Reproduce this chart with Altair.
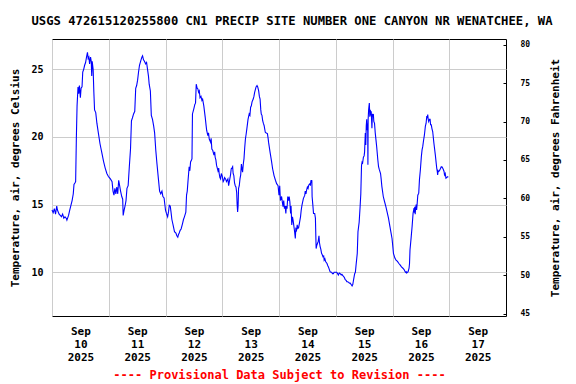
import altair as alt
import pandas as pd

# ---- data (hours since local midnight, deg C) ----
day_starts = ["2025-09-10", "2025-09-11", "2025-09-12", "2025-09-13",
              "2025-09-14", "2025-09-15", "2025-09-16"]

sep10_hours = [0.0, 0.5, 1.0, 1.5, 2.0, 2.3, 3.0, 3.5, 4.0, 4.5, 5.0, 5.5, 6.0, 6.3, 7.0, 7.5,
               8.0, 8.5, 9.0, 9.3, 9.7, 10.0, 10.3, 10.6, 11.0, 11.3, 11.6, 12.0, 12.3, 12.7,
               13.0, 13.4, 13.8, 14.2, 14.6, 15.0, 15.3, 15.6, 15.9, 16.3, 16.6, 16.8, 17.0,
               17.4, 17.7, 18.0, 18.5, 19.0, 19.6, 20.3, 21.0, 21.8, 22.5, 23.2, 23.8]
sep10_temp = [14.6, 14.4, 14.7, 14.3, 14.9, 14.6, 14.3, 14.2, 14.1, 14.3, 14.0, 14.1, 14.0, 13.85,
              14.2, 14.6, 14.95, 15.3, 15.8, 16.5, 16.6, 16.7, 19.9, 22.3, 23.7, 23.2, 23.8, 22.9,
              23.6, 23.7, 24.8, 25.0, 25.3, 25.5, 25.9, 26.25, 25.8, 25.9, 25.4, 25.9, 25.6, 24.5,
              25.6, 25.0, 23.3, 22.0, 21.8, 21.0, 20.3, 19.5, 18.9, 18.2, 17.7, 17.3, 17.1]

sep11_hours = [0.0, 0.7, 1.4, 1.8, 2.2, 2.6, 3.0, 3.4, 3.8, 4.2, 4.6, 5.0, 5.5, 5.9, 6.1, 6.5,
               6.9, 7.3, 7.7, 8.2, 8.7, 9.2, 9.6, 10.0, 10.5, 11.0, 11.4, 11.8, 12.2, 12.6, 13.0,
               13.5, 14.0, 14.3, 14.7, 15.1, 15.6, 16.0, 16.4, 16.8, 17.1, 17.6, 18.0, 18.5,
               19.0, 19.4, 19.9, 20.4, 21.0, 21.5, 22.0, 22.5, 22.9, 23.4, 23.8]
sep11_temp = [17.05, 16.9, 16.7, 16.0, 15.7, 16.2, 15.8, 16.3, 15.8, 16.8, 16.4, 16.0, 15.6, 15.4,
              14.2, 14.6, 14.9, 15.3, 16.2, 16.4, 17.8, 19.1, 21.2, 21.4, 21.7, 21.9, 23.6, 23.8,
              24.2, 24.8, 25.3, 25.6, 25.9, 26.0, 25.7, 25.6, 25.4, 25.5, 25.0, 24.5, 23.9, 23.4,
              21.6, 21.3, 20.8, 20.3, 19.0, 18.0, 16.9, 16.0, 15.8, 16.0, 15.6, 15.5, 14.9]

sep12_hours = [0.0, 0.4, 0.9, 1.3, 1.6, 2.0, 2.3, 2.7, 3.2, 3.8, 4.4, 4.8, 5.2, 5.5, 5.8, 6.2,
               6.6, 7.2, 7.6, 8.0, 8.6, 8.9, 9.2, 9.5, 10.0, 10.3, 10.6, 11.0, 11.2, 11.4, 12.0,
               12.4, 12.7, 13.0, 13.4, 13.7, 14.0, 14.3, 14.6, 15.0, 15.4, 15.7, 16.2, 16.8,
               17.2, 17.4, 17.9, 18.2, 18.5, 19.1, 19.3, 19.6, 20.0, 20.5, 20.8, 21.0, 21.3,
               21.6, 22.2, 22.5, 22.7, 23.0, 23.3, 23.6, 23.9]
sep12_temp = [14.6, 14.35, 14.1, 14.5, 14.95, 14.9, 14.5, 13.9, 13.5, 13.0, 12.9, 12.7, 12.6,
              12.8, 12.9, 13.1, 13.2, 13.6, 13.9, 14.1, 14.45, 15.7, 16.0, 16.7, 17.8, 17.5,
              18.15, 18.3, 18.4, 21.7, 22.1, 22.4, 22.5, 23.9, 23.6, 23.55, 23.3, 23.4, 22.9,
              23.0, 22.7, 22.8, 22.3, 21.45, 20.8, 20.5, 20.1, 20.3, 19.85, 19.6, 19.9, 19.1,
              19.0, 18.65, 18.9, 18.5, 18.3, 17.9, 17.5, 17.7, 17.3, 17.0, 16.9, 17.3, 17.15]

sep13_hours = [0.0, 0.4, 0.7, 1.0, 1.4, 1.8, 2.1, 2.4, 2.7, 3.0, 3.2, 3.5, 3.8, 4.1, 4.4, 4.6,
               4.9, 5.2, 5.5, 5.8, 6.1, 6.3, 6.5, 6.7, 6.9, 7.2, 7.5, 7.8, 8.1, 8.4, 8.6, 8.9,
               9.2, 9.5, 9.8, 10.1, 10.4, 10.9, 11.4, 11.7, 12.0, 12.3, 12.6, 13.1, 13.4, 13.7,
               14.0, 14.3, 14.7, 15.0, 15.4, 15.7, 16.0, 16.3, 16.5, 16.8, 17.1, 17.4, 17.7,
               18.2, 18.6, 19.1, 19.4, 19.6, 20.2, 20.8, 21.3, 21.6, 21.9, 22.5, 23.0, 23.6]
sep13_temp = [17.1, 16.7, 16.8, 17.0, 16.9, 16.7, 16.8, 16.9, 16.4, 16.7, 16.9, 17.2, 17.65,
              17.7, 17.8, 17.3, 17.15, 16.6, 16.4, 16.3, 15.9, 15.0, 14.45, 14.9, 16.2, 16.4,
              16.9, 17.2, 18.0, 17.6, 17.4, 18.0, 18.4, 19.2, 19.85, 20.2, 20.6, 21.3, 21.7,
              21.6, 22.2, 22.3, 22.6, 22.8, 23.0, 23.3, 23.5, 23.7, 23.8, 23.7, 23.4, 23.0,
              22.8, 22.0, 21.7, 21.6, 21.2, 21.0, 20.85, 20.35, 20.3, 20.25, 19.9, 19.6, 18.9,
              18.25, 17.65, 17.4, 17.15, 16.8, 16.55, 16.4]

sep14_hours = [0.0, 0.3, 0.6, 0.9, 1.1, 1.4, 1.7, 2.0, 2.3, 2.6, 2.9, 3.1, 3.4, 3.7, 4.0, 4.3,
               4.6, 4.9, 5.1, 5.4, 5.7, 6.0, 6.3, 6.6, 6.9, 7.1, 7.4, 7.7, 8.0, 8.3, 8.6, 9.1,
               9.4, 9.7, 10.3, 10.9, 11.1, 11.4, 11.7, 12.0, 12.3, 12.6, 13.1, 13.3, 13.5, 13.7,
               13.9, 14.0, 14.3, 14.6, 15.1, 15.4, 15.6, 15.7, 16.0, 16.3, 16.6, 16.9, 17.1,
               17.4, 17.7, 18.0, 18.3, 18.6, 18.9, 19.1, 19.4, 19.7, 20.3, 20.6, 20.9, 21.3,
               21.6, 22.0, 22.3, 22.6, 23.0, 23.3, 23.7]
sep14_temp = [15.7, 16.4, 15.3, 15.5, 15.6, 15.2, 14.85, 15.3, 14.7, 14.9, 14.35, 14.9, 14.7,
              15.6, 15.3, 15.6, 15.2, 14.35, 14.9, 13.5, 14.1, 13.8, 13.4, 13.0, 12.5, 13.2,
              13.1, 13.5, 13.25, 13.3, 13.6, 14.1, 14.6, 14.95, 15.45, 15.7, 16.0, 15.8, 16.1,
              16.3, 16.2, 16.45, 16.55, 16.4, 16.8, 16.7, 16.8, 15.6, 15.0, 14.35, 14.35, 14.0,
              12.5, 11.75, 12.0, 12.15, 12.3, 12.7, 12.2, 11.9, 11.7, 11.4, 11.3, 11.15, 11.2,
              10.9, 11.0, 10.8, 10.65, 10.5, 10.4, 10.2, 10.05, 10.0, 10.0, 9.9, 9.9, 10.0, 10.0]

sep15_hours = [0.0, 0.4, 0.8, 1.1, 1.5, 1.9, 2.3, 2.6, 3.0, 3.3, 3.7, 4.0, 4.4, 4.7, 5.1, 5.4,
               5.8, 6.1, 6.5, 6.9, 7.2, 7.4, 7.7, 8.0, 8.3, 8.6, 9.1, 9.4, 9.9, 10.3, 10.6,
               10.9, 11.1, 11.3, 11.7, 12.0, 12.2, 12.5, 12.7, 12.9, 13.1, 13.3, 13.5, 13.6,
               13.7, 13.9, 14.2, 14.4, 14.6, 14.8, 15.0, 15.3, 15.5, 15.7, 15.9, 16.1, 16.4,
               16.7, 17.0, 17.3, 17.8, 18.1, 18.4, 18.95, 19.2, 19.5, 20.1, 20.6, 21.2, 21.8,
               22.3, 22.9, 23.4, 23.8]
sep15_temp = [10.0, 10.0, 9.9, 9.8, 9.95, 9.9, 9.8, 9.85, 9.75, 9.7, 9.6, 9.45, 9.4, 9.3, 9.3,
              9.25, 9.2, 9.2, 9.1, 9.0, 9.1, 9.3, 9.6, 9.9, 10.0, 10.55, 11.4, 13.0, 13.7,
              14.85, 15.8, 17.9, 18.1, 18.0, 18.5, 18.6, 18.9, 20.3, 19.4, 20.8, 21.3, 20.5,
              21.0, 17.95, 21.3, 22.0, 22.5, 21.5, 22.0, 21.6, 21.9, 20.65, 21.7, 21.5, 21.7,
              21.15, 21.0, 20.3, 19.8, 19.3, 18.3, 17.8, 17.6, 17.3, 16.9, 16.35, 15.6, 15.25,
              14.85, 14.4, 14.0, 13.4, 12.9, 12.5]

sep16_hours = [0.0, 0.4, 1.0, 1.5, 2.1, 2.7, 3.2, 3.8, 4.4, 4.9, 5.2, 5.5, 5.8, 6.0, 6.3, 6.6,
               7.0, 7.2, 7.4, 7.9, 8.3, 8.7, 9.1, 9.3, 9.4, 9.6, 9.8, 10.0, 10.2, 10.4, 10.7,
               11.1, 11.4, 11.8, 12.2, 12.5, 12.8, 13.1, 13.5, 13.9, 14.2, 14.5, 14.7, 14.9,
               15.1, 15.3, 15.6, 15.9, 16.1, 16.4, 16.7, 17.0, 17.5, 18.1, 18.7, 18.9, 19.1,
               19.3, 19.5, 19.8, 20.1, 20.4, 20.6, 20.9, 21.2, 21.5, 21.8, 22.0, 22.3, 22.6,
               22.9, 23.2, 23.6]
sep16_temp = [12.15, 11.4, 11.05, 10.9, 10.8, 10.65, 10.55, 10.4, 10.3, 10.2, 10.1, 10.0, 10.05,
              9.95, 10.0, 10.05, 10.3, 10.65, 11.65, 12.6, 13.4, 14.35, 14.75, 14.4, 14.85,
              14.3, 14.75, 15.0, 14.6, 15.0, 15.7, 15.85, 16.85, 17.6, 18.55, 19.05, 19.3,
              19.7, 20.15, 20.8, 21.0, 21.55, 21.4, 21.65, 21.3, 21.15, 21.3, 21.3, 20.9, 20.9,
              20.6, 20.4, 19.55, 18.7, 17.7, 17.5, 17.2, 17.5, 17.45, 17.5, 17.6, 17.7, 17.8,
              17.8, 17.7, 17.6, 17.45, 17.2, 17.3, 16.95, 17.0, 17.05, 17.05]

all_hours = [sep10_hours, sep11_hours, sep12_hours, sep13_hours, sep14_hours, sep15_hours, sep16_hours]
all_temps = [sep10_temp, sep11_temp, sep12_temp, sep13_temp, sep14_temp, sep15_temp, sep16_temp]

title_text = "USGS 472615120255800 CN1 PRECIP SITE NUMBER ONE CANYON NR WENATCHEE, WA"
footer_text = "---- Provisional Data Subject to Revision ----"
left_title = "Temperature, air, degrees Celsius"
right_title = "Temperature, air, degrees Fahrenheit"
c_ticks = [10, 15, 20, 25]
f_ticks = [45, 50, 55, 60, 65, 70, 75, 80]

rows = []
for start, hrs, vals in zip(day_starts, all_hours, all_temps):
    for h, v in zip(hrs, vals):
        rows.append({"time": (pd.Timestamp(start) + pd.Timedelta(hours=h)).strftime("%Y-%m-%dT%H:%M:%S"),
                     "temp_c": v})
df = pd.DataFrame(rows)
df["temp_f"] = df["temp_c"] * 9.0 / 5.0 + 32.0

FONT = "DejaVu Sans Mono"

x_enc = alt.X(
    "time:T",
    scale=alt.Scale(domain=[alt.DateTime(year=2025, month=9, date=10),
                            alt.DateTime(year=2025, month=9, date=18)]),
    axis=alt.Axis(
        values=[alt.DateTime(year=2025, month=9, date=d) for d in range(10, 18)],
        labelExpr="[timeFormat(datum.value, '%b'), timeFormat(datum.value, '%d'), timeFormat(datum.value, '%Y')]",
        labelOffset=28.4, labelPadding=9, labelLineHeight=13,
        labelFont=FONT, labelFontSize=11, labelFontWeight="bold", labelColor="black",
        labelOverlap=False, labelBound=False, labelFlush=False,
        ticks=False, tickSize=0, domain=False,
        grid=True, gridColor="#cccccc", gridWidth=1,
        title=footer_text, titleColor="#ff0000", titleFont=FONT, titleFontSize=12,
        titleFontWeight="bold", titlePadding=7,
    ),
)

line_c = alt.Chart(df).mark_line(color="#0000ff", strokeWidth=1.1, interpolate="linear").encode(
    x=x_enc,
    y=alt.Y("temp_c:Q",
            scale=alt.Scale(domain=[6.77, 27.24], nice=False, zero=False),
            axis=alt.Axis(values=c_ticks, title=left_title, grid=True, gridColor="#cccccc",
                          gridWidth=1, ticks=False, tickSize=0, domain=False,
                          labelPadding=9, labelFont=FONT, labelFontSize=10,
                          labelFontWeight="bold", labelColor="black",
                          titleFont=FONT, titleFontSize=11, titleFontWeight="bold",
                          titleColor="black", titlePadding=10)),
)

line_f = alt.Chart(df).mark_line(strokeOpacity=0).encode(
    x=alt.X("time:T"),
    y=alt.Y("temp_f:Q",
            scale=alt.Scale(domain=[44.70, 80.74], nice=False, zero=False),
            axis=alt.Axis(orient="right", values=f_ticks, title=right_title, grid=False,
                          offset=-3, domain=False, ticks=True, tickSize=3, tickColor="black",
                          tickWidth=1, labelPadding=14, labelFont=FONT, labelFontSize=8,
                          labelFontWeight="bold", labelColor="black",
                          titleFont=FONT, titleFontSize=11, titleFontWeight="bold",
                          titleColor="black", titleAngle=270, titlePadding=31)),
)

chart = alt.layer(line_c, line_f).resolve_scale(y="independent").properties(
    width=454, height=277,
    autosize=alt.AutoSizeParams(type="none"),
    padding={"left": 44, "top": 31, "right": 62, "bottom": 66},
    title=alt.TitleParams(title_text, font=FONT, fontSize=12.2, fontWeight="bold",
                          color="black", anchor="middle", dx=13, offset=12),
    background="white",
).configure_view(stroke="black", strokeWidth=1)

chart.save("out.html", embed_options={"renderer": "svg", "actions": False})
